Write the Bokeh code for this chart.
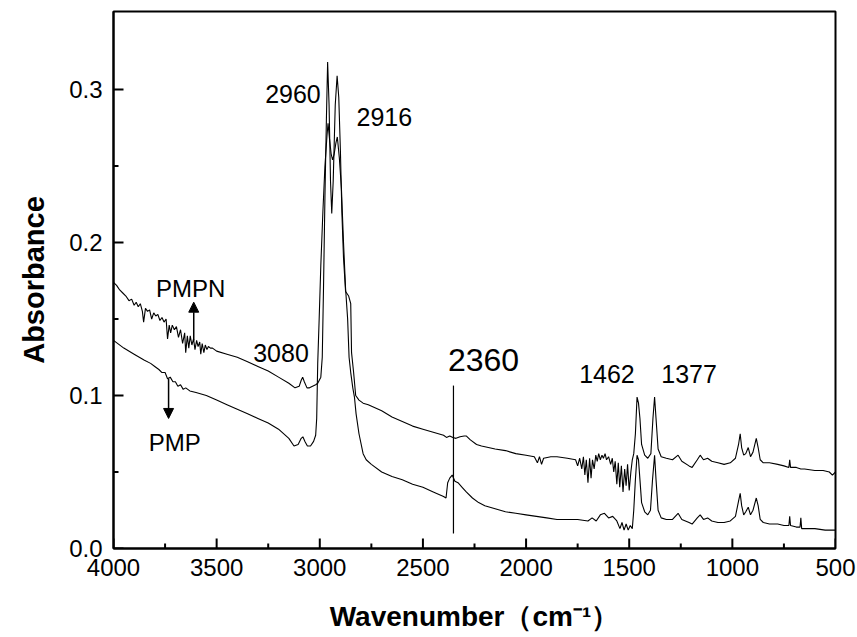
from bokeh.plotting import figure
from bokeh.models import Range1d, FixedTicker, PrintfTickFormatter, Label, Arrow, NormalHead, ColumnDataSource
from bokeh.embed import file_html
from bokeh.resources import INLINE

# ---------------- data ----------------
pmpn_wn = [4000, 3985, 3970, 3955, 3940, 3925, 3912, 3900, 3890, 3880, 3870, 3860, 3854, 3845, 3835,
           3825, 3815, 3805, 3795, 3785, 3775, 3765, 3755, 3745, 3738, 3730, 3723, 3715, 3705, 3695,
           3685, 3675, 3665, 3655, 3650, 3642, 3635, 3628, 3620, 3612, 3605, 3597, 3590, 3582, 3577,
           3570, 3562, 3555, 3547, 3540, 3530, 3520, 3510, 3500, 3450, 3400, 3350, 3300, 3250, 3200,
           3150, 3120, 3100, 3090, 3083, 3075, 3062, 3050, 3035, 3020, 3010, 2995, 2988, 2982, 2975,
           2968, 2962, 2955, 2948, 2942, 2935, 2925, 2916, 2908, 2900, 2893, 2885, 2875, 2860, 2850,
           2846, 2836, 2826, 2810, 2790, 2765, 2700, 2650, 2600, 2550, 2500, 2450, 2400, 2386, 2370,
           2355, 2340, 2320, 2300, 2289, 2270, 2240, 2216, 2150, 2100, 2050, 2000, 1960, 1945, 1935,
           1925, 1915, 1880, 1850, 1800, 1760, 1750, 1740, 1730, 1722, 1715, 1708, 1700, 1692, 1685,
           1678, 1670, 1662, 1655, 1648, 1640, 1632, 1625, 1617, 1610, 1600, 1590, 1582, 1575, 1568,
           1560, 1553, 1546, 1538, 1530, 1522, 1515, 1508, 1500, 1492, 1485, 1478, 1470, 1462, 1455,
           1448, 1440, 1425, 1410, 1395, 1385, 1377, 1370, 1360, 1345, 1320, 1290, 1263, 1245, 1210,
           1195, 1170, 1156, 1140, 1120, 1100, 1070, 1040, 1010, 985, 970, 962, 955, 945, 935, 923,
           912, 900, 884, 875, 865, 850, 820, 780, 750, 726, 722, 718, 690, 668, 650, 600, 560, 530,
           515, 500]
pmpn_abs = [0.174, 0.172, 0.169, 0.167, 0.165, 0.162, 0.163, 0.159, 0.161, 0.158, 0.160, 0.155, 0.148, 0.157, 0.155,
            0.156, 0.150, 0.154, 0.152, 0.153, 0.149, 0.151, 0.148, 0.150, 0.137, 0.146, 0.141, 0.146, 0.143, 0.145,
            0.138, 0.143, 0.134, 0.141, 0.128, 0.139, 0.131, 0.139, 0.133, 0.137, 0.130, 0.136, 0.132, 0.135, 0.127,
            0.134, 0.128, 0.133, 0.130, 0.132, 0.131, 0.131, 0.130, 0.129, 0.127, 0.125, 0.122, 0.119, 0.116, 0.112,
            0.108, 0.105, 0.106, 0.110, 0.112, 0.109, 0.105, 0.105, 0.106, 0.107, 0.108, 0.112, 0.125, 0.170, 0.230,
            0.280, 0.318, 0.290, 0.240, 0.219, 0.240, 0.290, 0.309, 0.295, 0.260, 0.220, 0.190, 0.168, 0.165, 0.160,
            0.128, 0.115, 0.100, 0.097, 0.095, 0.094, 0.090, 0.086, 0.083, 0.080, 0.078, 0.076, 0.074, 0.0726, 0.0735,
            0.0725, 0.072, 0.073, 0.0735, 0.0735, 0.071, 0.068, 0.067, 0.065, 0.064, 0.062, 0.061, 0.060, 0.056, 0.060,
            0.055, 0.059, 0.060, 0.060, 0.059, 0.058, 0.054, 0.059, 0.052, 0.060, 0.048, 0.058, 0.043, 0.059, 0.046,
            0.058, 0.052, 0.061, 0.057, 0.062, 0.058, 0.061, 0.059, 0.062, 0.058, 0.060, 0.055, 0.059, 0.050, 0.057,
            0.042, 0.056, 0.040, 0.054, 0.037, 0.052, 0.041, 0.055, 0.038, 0.050, 0.058, 0.062, 0.075, 0.099, 0.095,
            0.085, 0.068, 0.061, 0.059, 0.062, 0.085, 0.099, 0.085, 0.065, 0.060, 0.059, 0.058, 0.061, 0.057, 0.054,
            0.053, 0.058, 0.061, 0.058, 0.059, 0.057, 0.056, 0.055, 0.056, 0.059, 0.068, 0.075, 0.066, 0.061, 0.062, 0.066,
            0.060, 0.063, 0.072, 0.066, 0.058, 0.056, 0.056, 0.055, 0.054, 0.053, 0.058, 0.053, 0.053, 0.052, 0.052, 0.051, 0.051, 0.050,
            0.048, 0.050]

pmp_wn = [4000, 3950, 3900, 3850, 3820, 3800, 3780, 3765, 3750, 3738, 3725, 3712, 3700, 3688, 3675,
          3662, 3650, 3630, 3600, 3550, 3500, 3450, 3400, 3350, 3300, 3250, 3200, 3150, 3125, 3105,
          3090, 3082, 3072, 3060, 3045, 3030, 3020, 3015, 3010, 3003, 2995, 2985, 2975, 2965, 2960,
          2953, 2945, 2938, 2930, 2922, 2915, 2905, 2895, 2885, 2875, 2865, 2858, 2850, 2840, 2832,
          2824, 2810, 2790, 2775, 2750, 2700, 2650, 2600, 2550, 2500, 2450, 2400, 2388, 2380, 2370,
          2358, 2345, 2330, 2310, 2290, 2260, 2230, 2200, 2150, 2100, 2050, 2000, 1950, 1900, 1850,
          1800, 1750, 1700, 1680, 1660, 1640, 1620, 1600, 1580, 1560, 1545, 1535, 1525, 1515, 1505,
          1495, 1485, 1478, 1470, 1462, 1455, 1448, 1440, 1425, 1410, 1397, 1387, 1377, 1370, 1360,
          1345, 1320, 1290, 1263, 1245, 1210, 1195, 1170, 1156, 1140, 1120, 1100, 1070, 1040, 1010,
          985, 970, 962, 955, 945, 935, 923, 912, 900, 884, 875, 865, 850, 820, 780, 750, 726, 722,
          718, 690, 672, 668, 664, 640, 600, 550, 520, 500]
pmp_abs = [0.136, 0.131, 0.127, 0.123, 0.121, 0.119, 0.117, 0.115, 0.115, 0.111, 0.112, 0.109, 0.109, 0.106, 0.107,
           0.104, 0.105, 0.103, 0.102, 0.100, 0.097, 0.094, 0.091, 0.088, 0.085, 0.082, 0.078, 0.072, 0.067, 0.068,
           0.072, 0.073, 0.070, 0.067, 0.067, 0.070, 0.074, 0.085, 0.121, 0.150, 0.185, 0.220, 0.250, 0.270, 0.278,
           0.268, 0.258, 0.254, 0.258, 0.265, 0.269, 0.255, 0.235, 0.200, 0.170, 0.150, 0.125, 0.115, 0.105, 0.099,
           0.088, 0.075, 0.062, 0.058, 0.055, 0.050, 0.047, 0.045, 0.042, 0.040, 0.037, 0.034, 0.033, 0.043, 0.046,
           0.048, 0.044, 0.043, 0.040, 0.037, 0.033, 0.030, 0.028, 0.026, 0.024, 0.023, 0.022, 0.021, 0.020, 0.019,
           0.019, 0.019, 0.018, 0.020, 0.018, 0.022, 0.023, 0.020, 0.021, 0.018, 0.013, 0.017, 0.012, 0.016, 0.012,
           0.015, 0.013, 0.025, 0.045, 0.061, 0.058, 0.045, 0.030, 0.024, 0.022, 0.025, 0.045, 0.061, 0.045, 0.025,
           0.020, 0.019, 0.019, 0.023, 0.019, 0.017, 0.016, 0.020, 0.022, 0.019, 0.020, 0.018, 0.017, 0.017, 0.018,
           0.021, 0.031, 0.036, 0.028, 0.022, 0.024, 0.027, 0.022, 0.025, 0.033, 0.028, 0.019, 0.017, 0.016, 0.016, 0.015, 0.015, 0.021,
           0.015, 0.014, 0.014, 0.020, 0.013, 0.013, 0.013, 0.012, 0.012, 0.012]

x_ticks = [4000, 3500, 3000, 2500, 2000, 1500, 1000, 500]
x_minor = [3750, 3250, 2750, 2250, 1750, 1250, 750]
y_ticks = [0.0, 0.1, 0.2, 0.3]
y_minor = [0.05, 0.15, 0.25]

# annotation texts and anchor positions (data units)
peak_labels = ["2960", "2916", "3080", "1462", "1377"]
peak_label_x = [3130, 2687, 3188, 1608, 1210]
peak_label_y = [0.297, 0.282, 0.128, 0.114, 0.114]

FONT = "Liberation Sans"
X0, X1, Y0, Y1 = 4000, 500, 0, 0.351
FRAME_W, FRAME_H = 722, 537   # frame size in pixels (857-113-22, 637-11-89)

p = figure(width=857, height=637, output_backend="svg", toolbar_location=None,
           x_range=Range1d(X0, X1), y_range=Range1d(Y0, Y1),
           min_border_left=113, min_border_right=22, min_border_top=11, min_border_bottom=89)
p.grid.visible = False
p.background_fill_color = "white"
p.border_fill_color = "white"
p.outline_line_color = "black"
p.outline_line_width = 2

src1 = ColumnDataSource(dict(x=pmpn_wn, y=pmpn_abs))
src2 = ColumnDataSource(dict(x=pmp_wn, y=pmp_abs))
p.line("x", "y", source=src1, line_color="black", line_width=1.1)
p.line("x", "y", source=src2, line_color="black", line_width=1.1)

for ax in (p.xaxis[0], p.yaxis[0]):
    ax.axis_line_width = 2
    ax.major_tick_in = 0
    ax.major_tick_out = 0
    ax.minor_tick_in = 0
    ax.minor_tick_out = 0
    ax.major_label_text_font = FONT
    ax.major_label_text_font_size = "24px"
    ax.major_label_text_color = "black"
    ax.axis_label_text_font = FONT
    ax.axis_label_text_font_style = "bold"
    ax.axis_label_text_color = "black"

# inward tick marks drawn from the tick lists (10 px major, 5 px minor)
dy_major = (Y1 - Y0) * 10 / FRAME_H
dy_minor = (Y1 - Y0) * 5 / FRAME_H
dx_major = (X0 - X1) * 10 / FRAME_W
dx_minor = (X0 - X1) * 5 / FRAME_W
p.segment(x0=x_ticks, y0=[Y0] * len(x_ticks), x1=x_ticks, y1=[Y0 + dy_major] * len(x_ticks),
          line_color="black", line_width=2)
p.segment(x0=x_minor, y0=[Y0] * len(x_minor), x1=x_minor, y1=[Y0 + dy_minor] * len(x_minor),
          line_color="black", line_width=2)
p.segment(x0=[X0] * len(y_ticks), y0=y_ticks, x1=[X0 - dx_major] * len(y_ticks), y1=y_ticks,
          line_color="black", line_width=2)
p.segment(x0=[X0] * len(y_minor), y0=y_minor, x1=[X0 - dx_minor] * len(y_minor), y1=y_minor,
          line_color="black", line_width=2)

p.xaxis.ticker = FixedTicker(ticks=x_ticks, minor_ticks=x_minor)
p.yaxis.ticker = FixedTicker(ticks=y_ticks, minor_ticks=y_minor)
p.yaxis.formatter = PrintfTickFormatter(format="%.1f")
p.xaxis.formatter = PrintfTickFormatter(format="%d")
p.xaxis.major_label_standoff = 10
p.yaxis.major_label_standoff = 11

p.xaxis.axis_label = "Wavenumber\uff08cm\u207b\u00b9\uff09"
p.xaxis.axis_label_text_font_size = "28px"
p.xaxis.axis_label_standoff = 22
p.yaxis.axis_label = "Absorbance"
p.yaxis.axis_label_text_font_size = "29px"
p.yaxis.axis_label_standoff = 16

for t, x, y in zip(peak_labels, peak_label_x, peak_label_y):
    p.add_layout(Label(x=x, y=y, text=t, text_font=FONT, text_font_size="25px",
                       text_align="center", text_baseline="middle", text_color="black"))

p.add_layout(Label(x=2206, y=0.123, text="2360", text_font=FONT, text_font_size="32px",
                   text_align="center", text_baseline="middle", text_color="black"))
p.add_layout(Label(x=3626, y=0.170, text="PMPN", text_font=FONT, text_font_size="24px",
                   text_align="center", text_baseline="middle", text_color="black"))
p.add_layout(Label(x=3703, y=0.069, text="PMP", text_font=FONT, text_font_size="24px",
                   text_align="center", text_baseline="middle", text_color="black"))

# marker line at 2360
p.segment(x0=[2352], y0=[0.1065], x1=[2352], y1=[0.0098], line_color="black", line_width=1.2)

p.add_layout(Arrow(end=NormalHead(size=10, fill_color="black", line_color="black"),
                   x_start=3611, y_start=0.136, x_end=3611, y_end=0.161,
                   line_color="black", line_width=1.5))
p.add_layout(Arrow(end=NormalHead(size=10, fill_color="black", line_color="black"),
                   x_start=3733, y_start=0.111, x_end=3733, y_end=0.085,
                   line_color="black", line_width=1.5))

open("out.html", "w").write(file_html(p, INLINE))
